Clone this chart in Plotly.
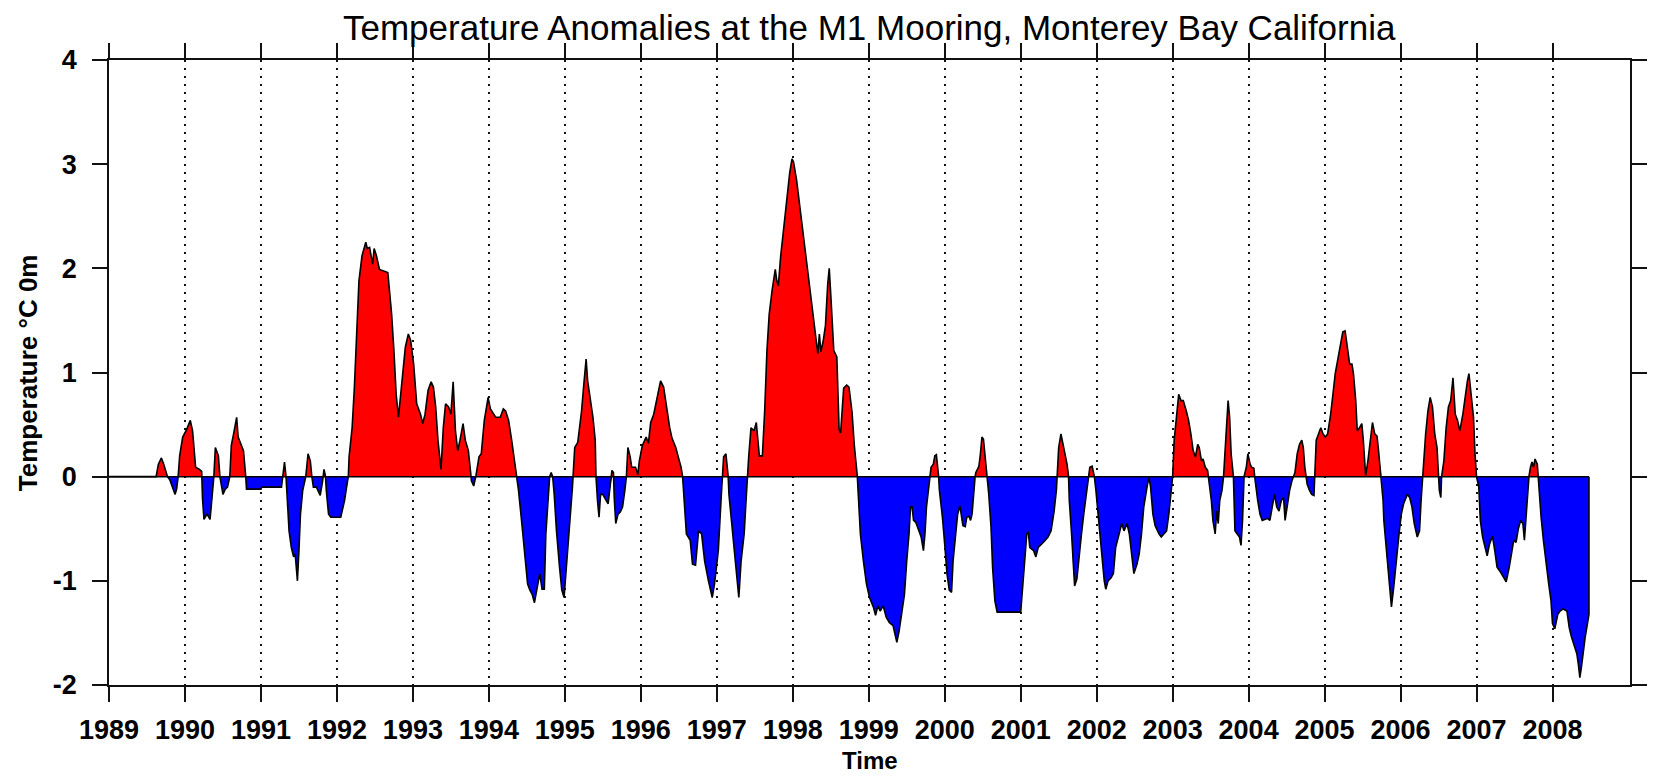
import numpy as np
import plotly.graph_objects as go

# Monthly-ish surface temperature anomalies (deg C) at the M1 mooring
year = [
    1989.00, 1989.62, 1989.65, 1989.69, 1989.72, 1989.77, 1989.80, 1989.84, 1989.87, 1989.89,
    1989.91, 1989.93, 1989.97, 1990.02, 1990.07, 1990.10, 1990.14, 1990.19, 1990.22, 1990.23,
    1990.25, 1990.29, 1990.33, 1990.36, 1990.38, 1990.40, 1990.44, 1990.46, 1990.48, 1990.50,
    1990.53, 1990.56, 1990.59, 1990.61, 1990.64, 1990.68, 1990.70, 1990.74, 1990.77, 1990.80,
    1990.81, 1991.00, 1991.01, 1991.27, 1991.29, 1991.31, 1991.33, 1991.35, 1991.37, 1991.40,
    1991.43, 1991.45, 1991.48, 1991.50, 1991.52, 1991.55, 1991.59, 1991.62, 1991.65, 1991.67,
    1991.69, 1991.73, 1991.78, 1991.81, 1991.83, 1991.85, 1991.86, 1991.89, 1991.92, 1992.05,
    1992.10, 1992.14, 1992.15, 1992.16, 1992.20, 1992.23, 1992.26, 1992.29, 1992.33, 1992.38,
    1992.40, 1992.43, 1992.47, 1992.49, 1992.52, 1992.56, 1992.67, 1992.72, 1992.75, 1992.78,
    1992.81, 1992.86, 1992.90, 1992.94, 1992.97, 1993.01, 1993.05, 1993.10, 1993.13, 1993.16,
    1993.20, 1993.24, 1993.27, 1993.30, 1993.33, 1993.37, 1993.40, 1993.43, 1993.47, 1993.50,
    1993.53, 1993.56, 1993.59, 1993.62, 1993.66, 1993.69, 1993.73, 1993.76, 1993.77, 1993.80,
    1993.83, 1993.87, 1993.90, 1993.94, 1993.99, 1994.02, 1994.09, 1994.15, 1994.19, 1994.22,
    1994.26, 1994.30, 1994.35, 1994.37, 1994.39, 1994.43, 1994.48, 1994.51, 1994.54, 1994.57,
    1994.60, 1994.63, 1994.67, 1994.70, 1994.73, 1994.75, 1994.78, 1994.80, 1994.82, 1994.84,
    1994.86, 1994.89, 1994.93, 1994.96, 1994.99, 1995.03, 1995.07, 1995.10, 1995.11, 1995.13,
    1995.17, 1995.22, 1995.25, 1995.28, 1995.30, 1995.34, 1995.37, 1995.40, 1995.41, 1995.43,
    1995.45, 1995.47, 1995.50, 1995.53, 1995.57, 1995.59, 1995.62, 1995.64, 1995.65, 1995.67,
    1995.70, 1995.73, 1995.76, 1995.79, 1995.81, 1995.83, 1995.86, 1995.88, 1995.93, 1995.96,
    1995.98, 1996.02, 1996.07, 1996.10, 1996.13, 1996.17, 1996.22, 1996.26, 1996.30, 1996.33,
    1996.38, 1996.41, 1996.46, 1996.50, 1996.53, 1996.55, 1996.57, 1996.60, 1996.65, 1996.68,
    1996.72, 1996.76, 1996.80, 1996.84, 1996.89, 1996.94, 1996.97, 1997.02, 1997.06, 1997.07,
    1997.09, 1997.12, 1997.14, 1997.15, 1997.16, 1997.19, 1997.23, 1997.27, 1997.29, 1997.32,
    1997.36, 1997.39, 1997.40, 1997.42, 1997.45, 1997.49, 1997.52, 1997.54, 1997.56, 1997.60,
    1997.63, 1997.66, 1997.69, 1997.73, 1997.77, 1997.79, 1997.81, 1997.84, 1997.88, 1997.92,
    1997.96, 1997.99, 1998.01, 1998.05, 1998.10, 1998.18, 1998.25, 1998.31, 1998.33, 1998.35,
    1998.37, 1998.40, 1998.43, 1998.46, 1998.48, 1998.50, 1998.54, 1998.58, 1998.61, 1998.63,
    1998.67, 1998.71, 1998.74, 1998.78, 1998.81, 1998.85, 1998.86, 1998.89, 1998.93, 1998.97,
    1999.01, 1999.06, 1999.09, 1999.12, 1999.15, 1999.19, 1999.23, 1999.27, 1999.32, 1999.35,
    1999.37, 1999.40, 1999.43, 1999.47, 1999.50, 1999.53, 1999.55, 1999.57, 1999.59, 1999.62,
    1999.65, 1999.69, 1999.72, 1999.74, 1999.76, 1999.79, 1999.80, 1999.82, 1999.85, 1999.87,
    1999.89, 1999.91, 1999.92, 1999.93, 1999.97, 2000.00, 2000.03, 2000.06, 2000.09, 2000.11,
    2000.14, 2000.17, 2000.20, 2000.22, 2000.24, 2000.27, 2000.29, 2000.32, 2000.34, 2000.36,
    2000.38, 2000.40, 2000.41, 2000.45, 2000.47, 2000.49, 2000.51, 2000.53, 2000.56, 2000.58,
    2000.61, 2000.63, 2000.66, 2000.69, 2001.00, 2001.03, 2001.06, 2001.08, 2001.10, 2001.12,
    2001.17, 2001.20, 2001.23, 2001.30, 2001.36, 2001.40, 2001.44, 2001.47, 2001.48, 2001.50,
    2001.53, 2001.56, 2001.59, 2001.61, 2001.63, 2001.64, 2001.67, 2001.69, 2001.71, 2001.74,
    2001.77, 2001.80, 2001.83, 2001.86, 2001.89, 2001.91, 2001.94, 2001.96, 2001.97, 2001.99,
    2002.02, 2002.05, 2002.08, 2002.10, 2002.12, 2002.15, 2002.19, 2002.22, 2002.25, 2002.30,
    2002.33, 2002.36, 2002.40, 2002.43, 2002.46, 2002.49, 2002.53, 2002.56, 2002.59, 2002.62,
    2002.67, 2002.69, 2002.71, 2002.74, 2002.77, 2002.82, 2002.85, 2002.88, 2002.92, 2002.95,
    2002.98, 2003.00, 2003.02, 2003.05, 2003.08, 2003.11, 2003.14, 2003.18, 2003.21, 2003.24,
    2003.27, 2003.30, 2003.33, 2003.35, 2003.38, 2003.40, 2003.43, 2003.46, 2003.47, 2003.49,
    2003.51, 2003.53, 2003.56, 2003.58, 2003.60, 2003.62, 2003.65, 2003.67, 2003.69, 2003.71,
    2003.73, 2003.75, 2003.77, 2003.80, 2003.82, 2003.85, 2003.88, 2003.90, 2003.92, 2003.94,
    2003.97, 2003.99, 2004.02, 2004.04, 2004.07, 2004.08, 2004.10, 2004.12, 2004.15, 2004.18,
    2004.22, 2004.25, 2004.28, 2004.31, 2004.34, 2004.37, 2004.40, 2004.43, 2004.46, 2004.48,
    2004.51, 2004.54, 2004.57, 2004.59, 2004.61, 2004.64, 2004.67, 2004.70, 2004.72, 2004.74,
    2004.76, 2004.77, 2004.80, 2004.83, 2004.86, 2004.87, 2004.89, 2004.92, 2004.95, 2004.98,
    2005.01, 2005.04, 2005.08, 2005.11, 2005.14, 2005.17, 2005.21, 2005.24, 2005.27, 2005.30,
    2005.33, 2005.36, 2005.38, 2005.41, 2005.43, 2005.46, 2005.49, 2005.51, 2005.53, 2005.54,
    2005.57, 2005.60, 2005.63, 2005.66, 2005.69, 2005.71, 2005.73, 2005.75, 2005.77, 2005.78,
    2005.81, 2005.83, 2005.86, 2005.88, 2005.91, 2005.94, 2005.98, 2006.01, 2006.04, 2006.09,
    2006.12, 2006.15, 2006.18, 2006.22, 2006.25, 2006.27, 2006.29, 2006.30, 2006.33, 2006.36,
    2006.39, 2006.42, 2006.45, 2006.48, 2006.50, 2006.51, 2006.53, 2006.54, 2006.57, 2006.60,
    2006.63, 2006.66, 2006.69, 2006.70, 2006.72, 2006.75, 2006.78, 2006.82, 2006.85, 2006.88,
    2006.90, 2006.93, 2006.96, 2006.98, 2007.00, 2007.03, 2007.05, 2007.08, 2007.11, 2007.14,
    2007.17, 2007.21, 2007.24, 2007.27, 2007.32, 2007.36, 2007.39, 2007.43, 2007.46, 2007.49,
    2007.52, 2007.55, 2007.58, 2007.61, 2007.63, 2007.65, 2007.68, 2007.69, 2007.71, 2007.73,
    2007.75, 2007.77, 2007.80, 2007.81, 2007.83, 2007.85, 2007.88, 2007.91, 2007.95, 2007.98,
    2008.00, 2008.03, 2008.07, 2008.10, 2008.14, 2008.19, 2008.22, 2008.25, 2008.29, 2008.32,
    2008.34, 2008.36, 2008.38, 2008.40, 2008.43, 2008.46, 2008.48,
]

anom = [
    0.00, 0.00, 0.12, 0.18, 0.12, 0.00, -0.03, -0.10, -0.17, -0.12,
    0.00, 0.20, 0.38, 0.45, 0.54, 0.44, 0.09, 0.07, 0.05, -0.20,
    -0.41, -0.36, -0.41, -0.20, 0.00, 0.28, 0.20, 0.00, -0.08, -0.17,
    -0.12, -0.10, 0.00, 0.30, 0.41, 0.57, 0.38, 0.31, 0.25, 0.00,
    -0.12, -0.12, -0.10, -0.10, 0.00, 0.14, 0.00, -0.23, -0.52, -0.68,
    -0.77, -0.74, -1.00, -0.71, -0.36, -0.13, 0.00, 0.22, 0.15, 0.00,
    -0.10, -0.10, -0.18, -0.05, 0.07, 0.00, -0.13, -0.36, -0.39, -0.39,
    -0.23, -0.04, 0.00, 0.19, 0.47, 0.86, 1.43, 1.88, 2.12, 2.25,
    2.19, 2.20, 2.04, 2.19, 2.12, 1.99, 1.96, 1.56, 1.21, 0.79,
    0.57, 0.95, 1.24, 1.37, 1.31, 1.08, 0.70, 0.60, 0.51, 0.60,
    0.83, 0.91, 0.86, 0.67, 0.35, 0.07, 0.47, 0.70, 0.67, 0.60,
    0.91, 0.44, 0.25, 0.35, 0.51, 0.35, 0.25, 0.04, -0.04, -0.09,
    0.01, 0.19, 0.22, 0.54, 0.76, 0.65, 0.57, 0.57, 0.65, 0.63,
    0.54, 0.35, 0.09, 0.00, -0.13, -0.42, -0.81, -1.03, -1.09, -1.13,
    -1.21, -1.09, -0.93, -1.08, -1.08, -0.55, -0.17, 0.00, 0.04, 0.00,
    -0.17, -0.52, -0.87, -1.09, -1.16, -0.81, -0.39, -0.10, 0.00, 0.28,
    0.33, 0.63, 0.89, 1.13, 0.92, 0.73, 0.57, 0.35, 0.00, -0.23,
    -0.39, -0.17, -0.17, -0.21, -0.26, -0.13, 0.06, 0.04, -0.20, -0.45,
    -0.36, -0.34, -0.29, -0.13, 0.00, 0.28, 0.19, 0.09, 0.09, 0.02,
    0.15, 0.30, 0.38, 0.32, 0.52, 0.60, 0.76, 0.92, 0.86, 0.70,
    0.47, 0.37, 0.28, 0.17, 0.09, 0.00, -0.23, -0.55, -0.61, -0.84,
    -0.85, -0.52, -0.55, -0.81, -1.00, -1.16, -1.03, -0.71, -0.17, 0.00,
    0.19, 0.22, 0.09, 0.00, -0.17, -0.39, -0.68, -0.97, -1.16, -0.81,
    -0.55, -0.17, 0.00, 0.19, 0.47, 0.44, 0.52, 0.31, 0.20, 0.20,
    0.63, 1.21, 1.56, 1.80, 1.99, 1.88, 1.83, 2.11, 2.39, 2.65,
    2.92, 3.05, 3.02, 2.85, 2.55, 2.05, 1.65, 1.25, 1.18, 1.37,
    1.20, 1.30, 1.45, 1.85, 2.00, 1.75, 1.21, 1.15, 0.45, 0.42,
    0.85, 0.88, 0.86, 0.62, 0.30, 0.00, -0.17, -0.55, -0.81, -1.03,
    -1.16, -1.25, -1.33, -1.24, -1.29, -1.24, -1.35, -1.40, -1.43, -1.51,
    -1.59, -1.48, -1.32, -1.13, -0.81, -0.55, -0.29, -0.29, -0.42, -0.44,
    -0.50, -0.58, -0.71, -0.55, -0.29, -0.10, 0.00, 0.09, 0.12, 0.20,
    0.21, 0.09, 0.00, -0.13, -0.39, -0.65, -0.93, -1.09, -1.11, -0.81,
    -0.55, -0.36, -0.28, -0.39, -0.47, -0.48, -0.39, -0.38, -0.42, -0.36,
    -0.13, 0.00, 0.04, 0.10, 0.22, 0.38, 0.36, 0.22, 0.00, -0.17,
    -0.49, -0.87, -1.19, -1.30, -1.30, -0.97, -0.74, -0.55, -0.53, -0.68,
    -0.71, -0.77, -0.68, -0.63, -0.58, -0.52, -0.33, -0.13, 0.00, 0.28,
    0.41, 0.31, 0.19, 0.12, 0.00, -0.23, -0.55, -0.87, -1.05, -0.98,
    -0.74, -0.55, -0.36, -0.17, 0.00, 0.09, 0.10, 0.03, 0.00, -0.13,
    -0.36, -0.61, -0.87, -1.00, -1.08, -1.00, -0.97, -0.93, -0.68, -0.52,
    -0.45, -0.52, -0.45, -0.55, -0.74, -0.93, -0.84, -0.74, -0.55, -0.29,
    -0.07, -0.01, -0.10, -0.36, -0.47, -0.55, -0.58, -0.55, -0.52, -0.36,
    -0.17, 0.00, 0.35, 0.60, 0.79, 0.73, 0.73, 0.63, 0.54, 0.41,
    0.25, 0.19, 0.31, 0.28, 0.15, 0.17, 0.09, 0.06, 0.00, -0.07,
    -0.23, -0.42, -0.55, -0.33, -0.45, -0.23, -0.13, 0.00, 0.28, 0.57,
    0.73, 0.57, 0.22, 0.00, -0.52, -0.55, -0.58, -0.66, -0.42, 0.00,
    0.09, 0.22, 0.12, 0.09, 0.08, 0.00, -0.13, -0.23, -0.36, -0.42,
    -0.41, -0.40, -0.42, -0.29, -0.17, -0.29, -0.33, -0.23, -0.20, -0.42,
    -0.26, -0.13, -0.04, 0.00, 0.04, 0.22, 0.31, 0.35, 0.28, 0.09,
    0.00, -0.07, -0.13, -0.17, -0.18, 0.00, 0.35, 0.41, 0.47, 0.41,
    0.38, 0.41, 0.60, 0.79, 0.99, 1.11, 1.27, 1.39, 1.40, 1.24,
    1.08, 1.08, 0.99, 0.73, 0.44, 0.47, 0.51, 0.35, 0.03, 0.01,
    0.15, 0.35, 0.52, 0.41, 0.39, 0.25, 0.09, 0.00, -0.23, -0.42,
    -0.68, -0.87, -1.06, -1.25, -1.06, -0.81, -0.55, -0.36, -0.26, -0.17,
    -0.20, -0.29, -0.45, -0.58, -0.52, -0.23, 0.00, 0.09, 0.41, 0.63,
    0.76, 0.67, 0.41, 0.28, 0.00, -0.13, -0.20, 0.00, 0.15, 0.47,
    0.67, 0.73, 0.95, 0.79, 0.60, 0.54, 0.44, 0.60, 0.79, 0.92,
    0.99, 0.79, 0.57, 0.22, 0.00, -0.10, -0.42, -0.58, -0.68, -0.76,
    -0.65, -0.57, -0.71, -0.87, -0.92, -0.97, -1.01, -0.87, -0.74, -0.61,
    -0.63, -0.50, -0.42, -0.45, -0.61, -0.39, -0.04, 0.00, 0.09, 0.14,
    0.09, 0.17, 0.12, 0.00, -0.17, -0.39, -0.61, -0.81, -1.03, -1.19,
    -1.41, -1.46, -1.32, -1.29, -1.27, -1.29, -1.45, -1.54, -1.64, -1.70,
    -1.80, -1.93, -1.83, -1.70, -1.54, -1.41, -1.32,
]

year_ticks = list(range(1989, 2009))
temp_ticks = list(range(-2, 5))

# Insert the zero crossings so the warm and cold fills meet cleanly at 0
x = np.asarray(year, dtype=float)
y = np.asarray(anom, dtype=float)
xs, ys = [x[0]], [y[0]]
for i in range(1, len(x)):
    a, b = y[i - 1], y[i]
    if a * b < 0:
        xs.append(x[i - 1] + (x[i] - x[i - 1]) * a / (a - b))
        ys.append(0.0)
    xs.append(x[i])
    ys.append(b)
xs = np.array(xs)
ys = np.array(ys)
warm = np.where(ys > 0, ys, 0.0)
cold = np.where(ys < 0, ys, 0.0)

FONT = "Liberation Sans, Arial, Helvetica, sans-serif"

fig = go.Figure()
fig.add_trace(go.Scatter(x=xs, y=warm, mode="lines", fill="tozeroy",
                         fillcolor="#ff0000", line=dict(width=0, color="#ff0000"),
                         hoverinfo="skip", showlegend=False))
fig.add_trace(go.Scatter(x=xs, y=cold, mode="lines", fill="tozeroy",
                         fillcolor="#0000ff", line=dict(width=0, color="#0000ff"),
                         hoverinfo="skip", showlegend=False))
# zero baseline across the record
fig.add_trace(go.Scatter(x=[xs[0], xs[-1]], y=[0, 0], mode="lines",
                         line=dict(color="black", width=1.5),
                         hoverinfo="skip", showlegend=False))
# black outline of the anomaly curve, closed back to zero at the end
fig.add_trace(go.Scatter(x=np.append(xs, xs[-1]), y=np.append(ys, 0.0), mode="lines",
                         line=dict(color="black", width=1.6),
                         showlegend=False))

axis_common = dict(
    ticks="outside", ticklen=15, tickwidth=1.5, tickcolor="#111",
    showline=True, linecolor="#111", linewidth=1.5, mirror="ticks",
    zeroline=False,
    tickfont=dict(family=FONT, size=27, color="black", weight="bold"),
)

fig.update_xaxes(range=[1989, 2009.02], tickmode="array", tickvals=year_ticks,
                 ticktext=[str(v) for v in year_ticks],
                 showgrid=True, gridcolor="#111", gridwidth=1.5, griddash="1.5px,6.5px",
                 ticklabelstandoff=5, **axis_common)
fig.update_yaxes(range=[-2, 4], tickmode="array", tickvals=temp_ticks,
                 ticktext=[str(v) for v in temp_ticks],
                 showgrid=False, ticklabelstandoff=10, **axis_common)

fig.update_layout(
    width=1659, height=776,
    margin=dict(l=109, r=14, t=60, b=91),
    paper_bgcolor="white", plot_bgcolor="white",
    showlegend=False,
    annotations=[
        dict(text="Temperature Anomalies at the M1 Mooring, Monterey Bay California",
             xref="paper", yref="paper", x=0.5, y=1.0525, xanchor="center", yanchor="middle",
             showarrow=False, font=dict(family=FONT, size=35, color="black")),
        dict(text="Temperature °C 0m", xref="paper", yref="paper", x=-0.0534, y=0.5,
             xanchor="center", yanchor="middle", textangle=-90, showarrow=False,
             font=dict(family=FONT, size=26, color="black", weight="bold")),
        dict(text="Time", xref="paper", yref="paper", x=0.5, y=-0.1215,
             xanchor="center", yanchor="middle", showarrow=False,
             font=dict(family=FONT, size=24, color="black", weight="bold")),
    ],
)

fig.write_html("out.html")
